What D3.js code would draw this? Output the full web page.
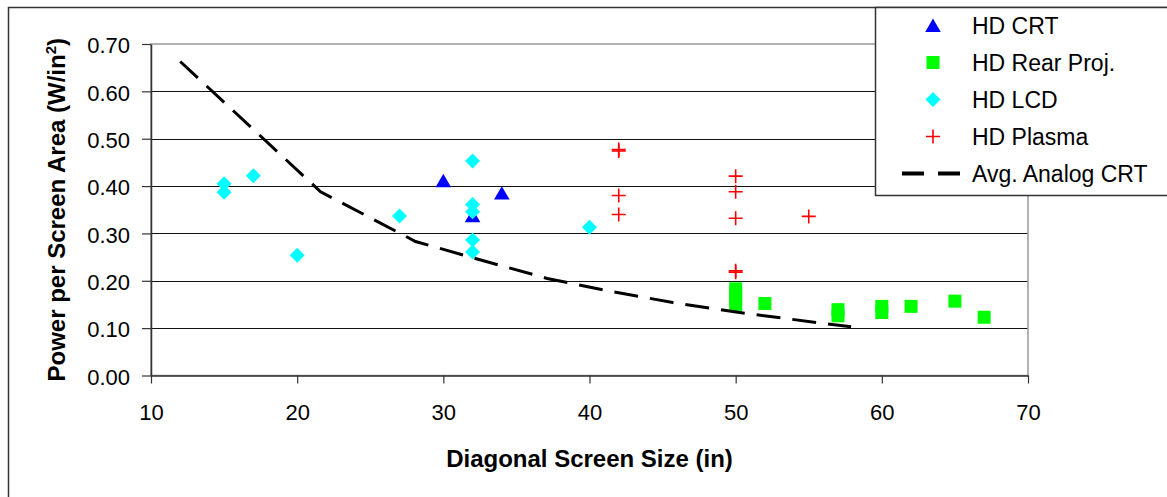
<!DOCTYPE html>
<html>
<head>
<meta charset="utf-8">
<script src="https://cdn.jsdelivr.net/npm/d3@7"></script>
<style>
  body { margin: 0; background: #fff; }
  text { font-family: "Liberation Sans", Arial, sans-serif; fill: #000; }
</style>
</head>
<body>
<div id="chart"></div>
<script>
// data: [screen size (in), W per sq in]
var hdCrt = [[30, 0.409], [32, 0.335], [34, 0.383]]
var hdRearProj = [[50, 0.183], [50, 0.172], [50, 0.160], [50, 0.148], [52, 0.152],
  [57, 0.139], [57, 0.126], [60, 0.146], [60, 0.133], [62, 0.146], [65, 0.157], [67, 0.123]]
var hdLcd = [[15, 0.405], [15, 0.387], [17, 0.422], [20, 0.254], [27, 0.337], [32, 0.453],
  [32, 0.361], [32, 0.346], [32, 0.286], [32, 0.261], [40, 0.313]]
var hdPlasma = [[42, 0.477], [42, 0.474], [42, 0.380], [42, 0.340], [50, 0.421], [50, 0.388],
  [50, 0.332], [50, 0.221], [50, 0.218], [55, 0.336]]
var avgAnalogCrt = [[12, 0.663], [21.6, 0.388], [28.1, 0.283], [32.2, 0.247], [37.1, 0.205],
  [40.9, 0.181], [45.7, 0.154], [50.5, 0.132], [55.5, 0.112], [57.9, 0.103]]

var xTicks = [10, 20, 30, 40, 50, 60, 70]
var yTicks = [0, 0.1, 0.2, 0.3, 0.4, 0.5, 0.6, 0.7]
var legendNames = ['HD CRT', 'HD Rear Proj.', 'HD LCD', 'HD Plasma', 'Avg. Analog CRT']

var width = 1167, height = 497
var svg = d3.select('#chart').append('svg')
  .attr('width', width).attr('height', height)

svg.append('rect').attr('width', width).attr('height', height).attr('fill', '#fff')
// outer chart frame (runs off the right/bottom edge)
svg.append('rect')
  .attr('x', 8.5).attr('y', 7.5).attr('width', 1300).attr('height', 600)
  .attr('fill', 'none').attr('stroke', '#333').attr('stroke-width', 1.5)

var x = d3.scaleLinear().domain([10, 70]).range([151, 1028])
var y = d3.scaleLinear().domain([0, 0.7]).range([375.5, 44])

// gridlines
svg.append('g').selectAll('line')
  .data(yTicks.filter(d => d > 0 && d < 0.7))
  .enter().append('line')
  .attr('x1', x(10)).attr('x2', x(70))
  .attr('y1', d => Math.round(y(d)) + 0.5).attr('y2', d => Math.round(y(d)) + 0.5)
  .attr('stroke', '#111').attr('stroke-width', 1)

// plot border
svg.append('rect')
  .attr('x', x(10)).attr('y', y(0.7))
  .attr('width', x(70) - x(10)).attr('height', y(0) - y(0.7))
  .attr('fill', 'none').attr('stroke', '#999').attr('stroke-width', 1.5)

// axes
var yAxis = d3.axisLeft(y).tickValues(yTicks).tickFormat(d3.format('.2f'))
  .tickSizeInner(9).tickSizeOuter(0).tickPadding(12)
var gy = svg.append('g').attr('transform', 'translate(' + x(10) + ',0)').call(yAxis)
gy.select('.domain').attr('stroke', '#333').attr('stroke-width', 1.5)
gy.selectAll('.tick line').attr('stroke', '#333').attr('stroke-width', 1.2)
gy.selectAll('.tick text')
  .attr('font-size', '22px').attr('dy', '0.4em')
  .style('font-family', '"Liberation Sans", Arial, sans-serif').attr('fill', '#000')

var xAxis = d3.axisBottom(x).tickValues(xTicks).tickFormat(d3.format('d'))
  .tickSizeInner(8).tickSizeOuter(0).tickPadding(21)
var gx = svg.append('g').attr('transform', 'translate(0,' + y(0) + ')').call(xAxis)
gx.select('.domain').attr('stroke', '#333').attr('stroke-width', 1.5)
gx.selectAll('.tick line').attr('stroke', '#333').attr('stroke-width', 1.2)
gx.selectAll('.tick text')
  .attr('font-size', '22px').attr('dy', '0.71em')
  .style('font-family', '"Liberation Sans", Arial, sans-serif').attr('fill', '#000')

// axis titles
svg.append('text')
  .attr('x', (x(10) + x(70)) / 2).attr('y', 466.5)
  .attr('text-anchor', 'middle').attr('font-size', '24px').attr('font-weight', 'bold')
  .text('Diagonal Screen Size (in)')

var yTitle = svg.append('text')
  .attr('transform', 'translate(65,' + (y(0) + y(0.7)) / 2 + ') rotate(-90)')
  .attr('text-anchor', 'middle').attr('font-size', '24px').attr('font-weight', 'bold')
yTitle.append('tspan').text('Power per Screen Area (W/in')
yTitle.append('tspan').attr('font-size', '15px').attr('dy', '-9').text('2')
yTitle.append('tspan').attr('dy', '9').text(')')

// marker shapes
var tri = d3.symbol().type(d3.symbolTriangle).size(105)
var dia = function(s) { return 'M0,' + (-s) + 'L' + s + ',0L0,' + s + 'L' + (-s) + ',0Z' }

function drawTriangles(g, data) {
  g.selectAll('path').data(data).enter().append('path')
    .attr('d', tri)
    .attr('transform', d => 'translate(' + x(d[0]) + ',' + (y(d[1]) + 1) + ')')
    .attr('fill', '#0000ff')
}
function drawSquares(g, data) {
  g.selectAll('rect').data(data).enter().append('rect')
    .attr('x', d => x(d[0]) - 6.5).attr('y', d => y(d[1]) - 6.5)
    .attr('width', 13).attr('height', 13)
    .attr('fill', '#00ff00')
}
function drawDiamonds(g, data) {
  g.selectAll('path').data(data).enter().append('path')
    .attr('d', dia(7.5))
    .attr('transform', d => 'translate(' + x(d[0]) + ',' + y(d[1]) + ')')
    .attr('fill', '#00ffff')
}
function drawPlus(g, data) {
  g.selectAll('path').data(data).enter().append('path')
    .attr('d', 'M-7,0H7M0,-7V7')
    .attr('transform', d => 'translate(' + x(d[0]) + ',' + y(d[1]) + ')')
    .attr('stroke', '#ff0000').attr('stroke-width', 1.6).attr('fill', 'none')
}

drawTriangles(svg.append('g'), hdCrt)
drawSquares(svg.append('g'), hdRearProj)
drawDiamonds(svg.append('g'), hdLcd)
drawPlus(svg.append('g'), hdPlasma)

var line = d3.line().x(d => x(d[0])).y(d => y(d[1]))
svg.append('path').datum(avgAnalogCrt)
  .attr('d', line)
  .attr('fill', 'none').attr('stroke', '#000').attr('stroke-width', 3)
  .attr('stroke-dasharray', '24,12')

// legend
var legend = svg.append('g')
legend.append('rect')
  .attr('x', 875.5).attr('y', 7.5).attr('width', 400).attr('height', 188)
  .attr('fill', '#fff').attr('stroke', '#333').attr('stroke-width', 1.5)

var rowY = d => 25.5 + d * 37
var markX = 933
legend.append('path').attr('d', tri).attr('transform', 'translate(' + markX + ',' + (rowY(0) + 2) + ')').attr('fill', '#0000ff')
legend.append('rect').attr('x', markX - 6.5).attr('y', rowY(1) - 6.5).attr('width', 13).attr('height', 13).attr('fill', '#00ff00')
legend.append('path').attr('d', dia(7.5)).attr('transform', 'translate(' + markX + ',' + rowY(2) + ')').attr('fill', '#00ffff')
legend.append('path').attr('d', 'M-7,0H7M0,-7V7').attr('transform', 'translate(' + markX + ',' + rowY(3) + ')')
  .attr('stroke', '#ff0000').attr('stroke-width', 1.6)
legend.append('line').attr('x1', 902).attr('x2', 960).attr('y1', rowY(4)).attr('y2', rowY(4))
  .attr('stroke', '#000').attr('stroke-width', 4).attr('stroke-dasharray', '22,14')

legend.selectAll('text.lbl').data(legendNames).enter().append('text')
  .attr('class', 'lbl')
  .attr('x', 972).attr('y', (d, i) => rowY(i)).attr('dy', '0.36em')
  .attr('font-size', '23px')
  .text(d => d)
</script>
</body>
</html>
